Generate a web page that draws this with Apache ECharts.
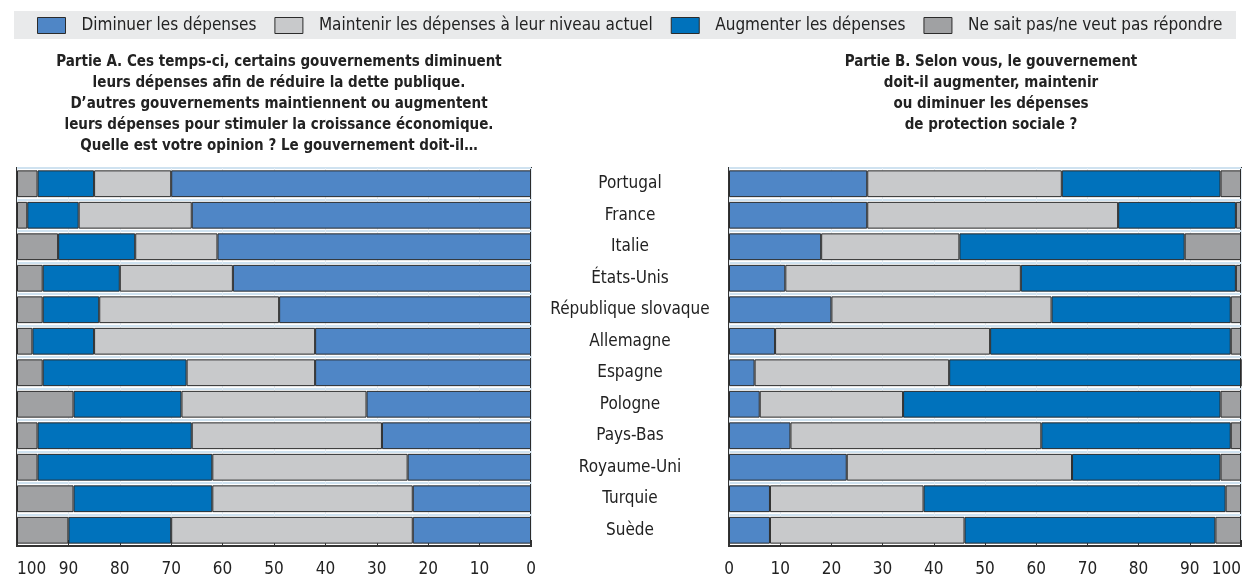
<!DOCTYPE html>
<html lang="fr">
<head>
    <meta charset="UTF-8">
    <title>Dépenses publiques</title>
    <script src="https://cdn.jsdelivr.net/npm/echarts@6.0.0/dist/echarts.min.js"></script>
    <style>
        html, body { margin: 0; padding: 0; background: #fff; }
        #chart { width: 1244px; height: 578px; }
    </style>
</head>
<body>
<div id="chart"></div>
<script>
    // pays, de haut en bas
    var pays = ['Portugal', 'France', 'Italie', 'États-Unis', 'République slovaque', 'Allemagne',
        'Espagne', 'Pologne', 'Pays-Bas', 'Royaume-Uni', 'Turquie', 'Suède'];

    var noms = ['Diminuer les dépenses', 'Maintenir les dépenses à leur niveau actuel',
        'Augmenter les dépenses', 'Ne sait pas/ne veut pas répondre'];
    var couleurs = ['#4f86c6', '#c8c9cb', '#0072bc', '#a0a1a3'];

    // Partie A (en %)
    var aDiminuer  = [70, 66, 61, 58, 49, 42, 42, 32, 29, 24, 23, 23];
    var aMaintenir = [15, 22, 16, 22, 35, 43, 25, 36, 37, 38, 39, 47];
    var aAugmenter = [11, 10, 15, 15, 11, 12, 28, 21, 30, 34, 27, 20];
    var aNsp       = [4, 2, 8, 5, 5, 3, 5, 11, 4, 4, 11, 10];

    // Partie B (en %)
    var bDiminuer  = [27, 27, 18, 11, 20, 9, 5, 6, 12, 23, 8, 8];
    var bMaintenir = [38, 49, 27, 46, 43, 42, 38, 28, 49, 44, 30, 38];
    var bAugmenter = [31, 23, 44, 42, 35, 47, 57, 62, 37, 29, 59, 49];
    var bNsp       = [4, 1, 11, 1, 2, 2, 0, 4, 2, 4, 3, 5];

    var police = "'Liberation Sans Narrow', 'DejaVu Sans Condensed', sans-serif";

    function axeX(grid, inverse) {
        return {
            type: 'value', gridIndex: grid, min: 0, max: 100, interval: 10, inverse: inverse,
            axisLine: { show: true, lineStyle: { color: '#333', width: 2 } },
            axisTick: { show: true, inside: true, length: 6, lineStyle: { color: '#333' } },
            axisLabel: {
                margin: 15, fontFamily: police, fontSize: 17, color: '#222',
                alignMaxLabel: inverse ? 'left' : 'right'
            },
            splitLine: { show: true, lineStyle: { color: '#e4ecf3', width: 1 } }
        };
    }

    function axeY(grid, avecLabels) {
        return {
            type: 'category', gridIndex: grid, data: pays, inverse: true,
            axisLine: { show: false }, axisTick: { show: false },
            axisLabel: {
                show: avecLabels, align: 'center', margin: 99,
                fontFamily: police, fontSize: 17, color: '#222'
            },
            splitLine: { show: true, lineStyle: { color: '#cfe2f0', width: 2 } }
        };
    }

    function barres(grid, valeurs) {
        return valeurs.map(function (v, i) {
            return {
                name: noms[i], type: 'bar', stack: 'p' + grid,
                xAxisIndex: grid, yAxisIndex: grid,
                barCategoryGap: '15%',
                itemStyle: { color: couleurs[i], borderColor: '#2b2b2b', borderWidth: 1 },
                data: v
            };
        });
    }

    var myChart = echarts.init(document.getElementById('chart'));
    var option = {
        animation: false,
        textStyle: { fontFamily: police },
        graphic: [{
            type: 'rect', left: 14, top: 11, z: -1,
            shape: { width: 1222, height: 28 },
            style: { fill: '#e9eaeb' }
        }],
        legend: {
            data: noms, left: 37, top: 17, padding: 0,
            itemWidth: 28, itemHeight: 16, itemGap: 18,
            icon: 'rect',
            itemStyle: { borderColor: '#2b2b2b', borderWidth: 1 },
            textStyle: { fontFamily: police, fontSize: 17, color: '#222', padding: [0, 0, 0, 11] }
        },
        title: [{
            text: 'Partie A. Ces temps-ci, certains gouvernements diminuent\nleurs dépenses afin de réduire la dette publique.\nD\u2019autres gouvernements maintiennent ou augmentent\nleurs dépenses pour stimuler la croissance économique.\nQuelle est votre opinion ? Le gouvernement doit-il\u2026',
            left: 274, top: 47, textAlign: 'center',
            textStyle: { fontFamily: police, fontSize: 15, fontWeight: 'bold', color: '#222', lineHeight: 21 }
        }, {
            text: 'Partie B. Selon vous, le gouvernement\ndoit-il augmenter, maintenir\nou diminuer les dépenses\nde protection sociale ?',
            left: 986, top: 47, textAlign: 'center',
            textStyle: { fontFamily: police, fontSize: 15, fontWeight: 'bold', color: '#222', lineHeight: 21 }
        }],
        grid: [
            { left: 17, right: 713, top: 168, bottom: 31, show: true, borderColor: '#333', borderWidth: 2, backgroundColor: '#fff' },
            { left: 729, right: 2, top: 168, bottom: 31, show: true, borderColor: '#333', borderWidth: 2, backgroundColor: '#fff' }
        ],
        xAxis: [axeX(0, true), axeX(1, false)],
        yAxis: [axeY(0, false), axeY(1, true)],
        series: barres(0, [aDiminuer, aMaintenir, aAugmenter, aNsp])
            .concat(barres(1, [bDiminuer, bMaintenir, bAugmenter, bNsp]))
    };
    myChart.setOption(option);
</script>
</body>
</html>
